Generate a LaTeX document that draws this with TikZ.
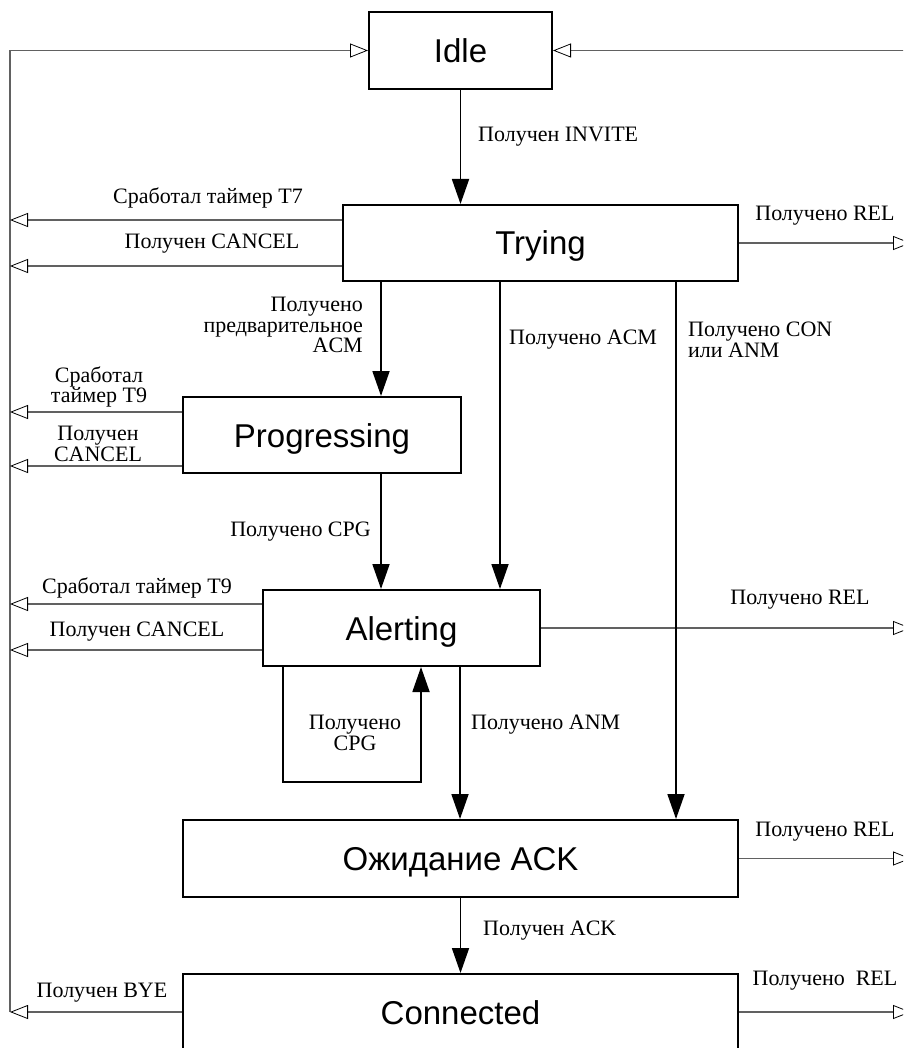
\documentclass[tikz,border=0pt]{standalone}
\usepackage{fontspec}
\setmainfont{Liberation Serif}
\newfontfamily\statefont{Liberation Sans}
\usetikzlibrary{arrows.meta,calc}
\begin{document}
\begin{tikzpicture}[x=1pt,y=-1pt,
  state/.style={draw=black, line width=2pt, fill=white, inner sep=0pt,
    font=\statefont\fontsize{33}{36}\selectfont, text height=24pt, text depth=0pt},
  lbl/.style={font=\fontsize{22}{20.5}\selectfont, inner sep=0pt, align=center, yshift=-2pt},
  bus/.style={draw=black!62, line width=1.1pt},
  opentip/.style={-{Triangle[open, length=18pt, width=14pt, color=black, line width=0.8pt]}},
  flow/.style={draw=black, line width=1.8pt, -{Triangle[length=25pt, width=17pt]}}
]
\useasboundingbox (0,0) rectangle (903,1048);
\clip (0,0) rectangle (903,1048);

% states
\node[state, minimum width=183pt, minimum height=77pt] (idle) at (460.5,50.5) {Idle};
\node[state, minimum width=395pt, minimum height=76pt] (trying) at (540.5,243) {Trying};
\node[state, minimum width=278pt, minimum height=76pt] (prog) at (322,435) {Progressing};
\node[state, minimum width=277pt, minimum height=76pt] (alert) at (401.5,628) {Alerting};
\node[state, minimum width=555pt, minimum height=77pt] (wait) at (460.5,858.5) {Ожидание ACK};
\node[state, minimum width=555pt, minimum height=76pt] (conn) at (460.5,1012) {Connected};

% bus coordinates
\coordinate (busL) at (10,50.5);
\coordinate (busLend) at (10,1012);
\coordinate (busR) at (911,50.5);

% grey return lines
\draw[bus, opentip] (busLend) -- (busL) -- (idle.west);
\draw[bus, opentip] (busR) -- (idle.east);

\coordinate (tA) at ([yshift=23pt]trying.west);
\coordinate (tB) at ([yshift=-23pt]trying.west);
\draw[bus, opentip] (tA) -- (tA -| busL);
\draw[bus, opentip] (tB) -- (tB -| busL);
\draw[bus, opentip] (trying.east) -- (trying.east -| busR);

\coordinate (pA) at ([yshift=23pt]prog.west);
\coordinate (pB) at ([yshift=-31pt]prog.west);
\draw[bus, opentip] (pA) -- (pA -| busL);
\draw[bus, opentip] (pB) -- (pB -| busL);

\coordinate (aA) at ([yshift=24pt]alert.west);
\coordinate (aB) at ([yshift=-22pt]alert.west);
\draw[bus, opentip] (aA) -- (aA -| busL);
\draw[bus, opentip] (aB) -- (aB -| busL);
\draw[bus, opentip] (alert.east) -- (alert.east -| busR);

\draw[bus, opentip] (wait.east) -- (wait.east -| busR);
\draw[bus, opentip] (conn.east) -- (conn.east -| busR);
\draw[bus, opentip] (conn.west) -- (conn.west -| busL);

% black transitions
\draw[flow] (idle.south) -- (idle.south |- trying.north);
\coordinate (p1) at ([xshift=59pt]prog.north);
\draw[flow] (p1 |- trying.south) -- (p1);
\coordinate (a1) at ([xshift=98.5pt]alert.north);
\draw[flow] (a1 |- trying.south) -- (a1);
\coordinate (w1) at ([xshift=215.5pt]wait.north);
\draw[flow] (w1 |- trying.south) -- (w1);
\coordinate (a2) at ([xshift=-20.5pt]alert.north);
\draw[flow] (a2 |- prog.south) -- (a2);
\coordinate (s1) at ([xshift=-118.5pt]alert.south);
\coordinate (s2) at ([xshift=19.5pt]alert.south);
\draw[flow] (s1) -- ++(0,115) -| (s2);
\coordinate (a3) at ([xshift=58.5pt]alert.south);
\draw[flow] (a3) -- (a3 |- wait.north);
\draw[flow] (wait.south) -- (wait.south |- conn.north);

% labels
\node[lbl, anchor=west] (l1) at (478,135) {Получен INVITE};
\node[lbl] (l2) at (208,196) {Сработал таймер T7};
\node[lbl] (l3) at (212,242) {Получен CANCEL};
\node[lbl] (l4) at (825,214) {Получено REL};
\node[lbl, align=right, anchor=east] (l5) at (363,323) {Получено\\предварительное\\ACM};
\node[lbl, anchor=west] (l6) at (509,338) {Получено ACM};
\node[lbl, align=left, anchor=west] (l7) at (688,338) {Получено CON\\или ANM};
\node[lbl] (l8) at (99,385) {Сработал\\таймер T9};
\node[lbl] (l9) at (98,442) {Получен\\CANCEL};
\node[lbl, anchor=east] (l10) at (371,530) {Получено CPG};
\node[lbl] (l11) at (137,586) {Сработал таймер T9};
\node[lbl] (l12) at (137,630) {Получен CANCEL};
\node[lbl] (l13) at (800,598) {Получено REL};
\node[lbl] (l14) at (355,731) {Получено\\CPG};
\node[lbl, anchor=west] (l15) at (471,723) {Получено ANM};
\node[lbl] (l16) at (825,830) {Получено REL};
\node[lbl, anchor=west] (l17) at (483,929) {Получен ACK};
\node[lbl] (l18) at (825,979) {Получено~ REL};
\node[lbl] (l19) at (102,991) {Получен BYE};
\end{tikzpicture}
\end{document}
